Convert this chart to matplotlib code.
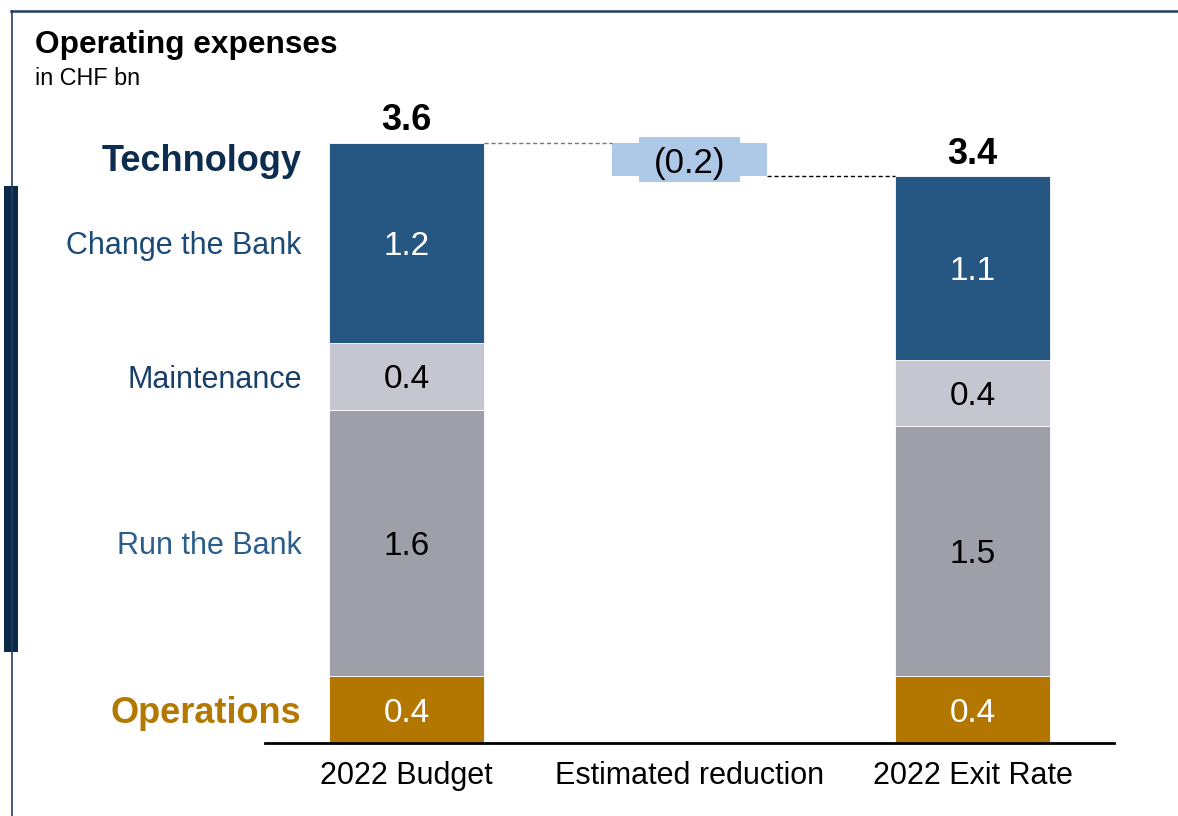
import matplotlib.pyplot as plt
from matplotlib.lines import Line2D
from matplotlib.patches import Rectangle

plt.rcParams["font.family"] = ["Liberation Sans", "DejaVu Sans"]

columns = ["2022 Budget", "Estimated reduction", "2022 Exit Rate"]
segments = ["Operations", "Run the Bank", "Maintenance", "Change the Bank"]
budget = [0.4, 1.6, 0.4, 1.2]
exit_rate = [0.4, 1.5, 0.4, 1.1]
budget_total = 3.6
exit_total = 3.4
reduction = -0.2

seg_colors = ["#b37700", "#9f9fa9", "#c6c6d0", "#265782"]
text_colors = ["white", "black", "black", "white"]
label_colors = ["#b27800", "#2c5e8c", "#173f69", "#1b4a77"]
reduce_color = "#aec8e8"
navy = "#0d2d50"

fig = plt.figure(figsize=(11.78, 8.16), dpi=100)
ax = fig.add_axes([0.225, 0.0895, 0.7207, 0.7966])

width = 0.55
x = [0, 1, 2]

# stacked bars for budget and exit rate
for col, values in [(x[0], budget), (x[2], exit_rate)]:
    bottom = 0
    for i, v in enumerate(values):
        ax.bar(col, v, width, bottom=bottom, color=seg_colors[i],
               edgecolor="white", linewidth=0.6)
        ax.text(col, bottom + v / 2, f"{v:.1f}", ha="center",
                va="center_baseline", fontsize=24, color=text_colors[i])
        bottom += v

# floating reduction bar
red_bottom = budget_total + reduction
ax.bar(x[1], -reduction, width, bottom=red_bottom, color=reduce_color)
ax.add_patch(Rectangle((x[1] - width * 0.325, red_bottom - 0.035),
                       width * 0.65, -reduction + 0.07,
                       color=reduce_color, linewidth=0))
ax.text(x[1], red_bottom - reduction / 2, f"({abs(reduction):.1f})",
        ha="center", va="center_baseline", fontsize=25, color="black")

# connectors
ax.plot([x[0] + width / 2, x[1] - width / 2], [budget_total, budget_total],
        ls=(0, (3, 2)), color="#777777", lw=1)
ax.plot([x[1] + width / 2, x[2] - width / 2], [exit_total, exit_total],
        ls=(0, (3, 2)), color="black", lw=1)

# totals
for col, total in [(x[0], budget_total), (x[2], exit_total)]:
    ax.annotate(f"{total:.1f}", (col, total), xytext=(0, 9),
                textcoords="offset points", ha="center", va="baseline",
                fontsize=26, fontweight="bold")

# segment names on the left
lx = -0.371
ax.text(lx, budget_total - 0.09, "Technology", ha="right",
        va="center_baseline", fontsize=26, fontweight="bold", color=navy,
        clip_on=False)
bottom = 0
for i, v in enumerate(budget):
    bold = segments[i] == "Operations"
    ax.text(lx, bottom + v / 2, segments[i], ha="right", va="center_baseline",
            fontsize=26 if bold else 22,
            fontweight="bold" if bold else "normal",
            color=label_colors[i], clip_on=False)
    bottom += v

ax.set_xlim(-0.5, 2.5)
ax.set_ylim(0, 3.9)
ax.set_xticks(x)
ax.set_xticklabels(columns, fontsize=22)
ax.tick_params(axis="x", length=0, pad=13)
ax.set_yticks([])
for s in ["top", "right", "left"]:
    ax.spines[s].set_visible(False)
ax.spines["bottom"].set_linewidth(2)
ax.spines["bottom"].set_color("black")

# titles
fig.text(35 / 1178, 1 - 42 / 816, "Operating expenses", fontsize=22.8,
         fontweight="bold", va="center_baseline", ha="left")
fig.text(35 / 1178, 1 - 76 / 816, "in CHF bn", fontsize=16.8,
         va="center_baseline", ha="left")

# frame lines
fig.add_artist(Line2D([11 / 1178, 1], [1 - 11 / 816] * 2, color="#22405f", lw=1.8))
fig.add_artist(Line2D([12 / 1178] * 2, [0, 1 - 11 / 816], color="#22405f", lw=1.2))
fig.add_artist(Rectangle((4 / 1178, 1 - 652 / 816), 14 / 1178, 466 / 816,
                         color="#0b2a4a", linewidth=0))

fig.savefig("out.png", dpi=100)
